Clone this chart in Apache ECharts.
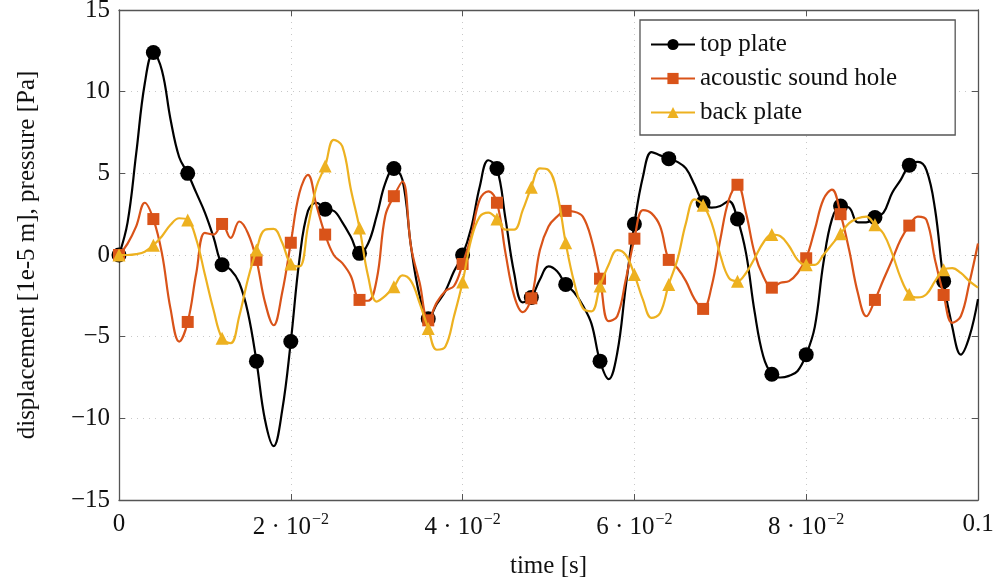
<!DOCTYPE html>
<html>
<head>
<meta charset="utf-8">
<title>plates</title>
<script src="https://cdn.jsdelivr.net/npm/echarts@6/dist/echarts.min.js"></script>
<style>
  html, body {margin: 0; padding: 0; background: #fff;}
  #chart {width: 999px; height: 586px;}
</style>
</head>
<body>
<div id="chart"></div>
<script>
  /******************/
  //region    //data

  // samples every 1 ms, marker on every 4th sample
  const dt = 0.001;
  const markEvery = 4;

  const topPlate = [
    0, 2.0, 6.2, 10.5, 12.4, 11.3, 8.3, 6.0, 5.0, 3.8,
    2.6, 1.1, -0.6, -0.9, -1.7, -3.5, -6.5, -10.1, -11.7, -9.5,
    -5.3, -0.3, 2.7, 3.2, 2.8, 2.7, 2.0, 1.1, 0.1, 0.7,
    2.4, 4.4, 5.3, 4.6, 0.5, -2.5, -3.9, -3.0, -2.2, -1.0,
    0, 1.65, 4.2, 5.8, 5.3, 2.2, -1.1, -2.9, -2.6, -1.5,
    -0.7, -1.0, -1.8, -2.3, -3.1, -4.2, -6.5, -7.6, -6.0, -1.9,
    1.9, 4.8, 6.3, 6.1, 5.9, 5.7, 5.3, 4.3, 3.2, 2.9,
    3.0, 3.3, 2.2, 0.1, -3.5, -6.2, -7.3, -7.5, -7.4, -7.1,
    -6.1, -4.4, -0.5, 2.2, 3.0, 2.9, 2.0, 2.0, 2.3, 2.6,
    3.8, 4.6, 5.5, 5.7, 5.2, 2.8, -1.6, -4.4, -6.1, -5.0,
    -2.7
  ];

  const soundHole = [
    0, 0.7, 1.75, 3.2, 2.2, 0.1, -3.3, -5.3, -4.1, -1.1,
    1.35, 1.25, 1.9, 1.05, 2.05, 1.35, -0.3, -2.9, -4.3, -2.3,
    0.75, 3.8, 4.9, 3.0, 1.25, 0.0, -0.5, -1.3, -2.75, -2.8,
    -1.5, 2.4, 3.6, 4.5, 0.5, -1.7, -4.0, -2.9, -2.2, -1.9,
    -0.55, 1.15, 3.4, 3.9, 3.2, 0.1, -2.5, -3.5, -2.65, 0.3,
    1.75, 2.35, 2.7, 2.65, 2.35, 0.95, -1.45, -4.05, -3.75, -1.5,
    1.0, 2.75, 2.55, 1.75, -0.3, -0.8, -1.6, -2.7, -3.3, -1.9,
    0.95, 3.4, 4.3, 2.55, 0.1, -1.3, -2.0, -1.7, -1.6, -1.1,
    -0.2, 1.55, 3.4, 4.0, 2.5, 0.3, -2.3, -3.75, -2.75, -1.5,
    -0.3, 0.95, 1.8, 2.35, 2.15, -0.3, -2.45, -4.15, -3.75, -1.7,
    0.7
  ];

  const backPlate = [
    0, 0.0, 0.05, 0.2, 0.6, 1.15, 1.85, 2.25, 2.15, 0.95,
    -1.2, -3.35, -5.1, -5.4, -3.75, -1.5, 0.3, 1.55, 1.6, 0.75,
    -0.55, -0.7, 1.75, 4.2, 5.45, 7.05, 6.65, 4.0, 1.65, -1.3,
    -2.85, -2.5, -1.95, -1.25, -1.6, -2.95, -4.5, -5.8, -5.6, -3.75,
    -1.65, 0.95, 2.35, 2.6, 2.2, 1.55, 1.55, 2.75, 4.15, 5.3,
    5.2, 3.8, 0.75, -1.7, -3.25, -3.45, -1.9, -0.6, 0.3, 0.0,
    -1.2, -2.75, -3.85, -3.55, -1.8, -0.3, 1.95, 3.4, 3.05, 1.95,
    0.0, -1.4, -1.6, -1.1, -0.2, 0.75, 1.25, 1.15, 0.55, -0.3,
    -0.6, -0.6, 0.0, 0.65, 1.3, 1.95, 2.25, 2.35, 1.85, 1.3,
    0.1, -1.4, -2.4, -2.6, -2.4, -1.6, -0.9, -0.8, -1.1, -1.6,
    -2.0
  ];

  const seriesNames = ['top plate', 'acoustic sound hole', 'back plate'];
  const seriesColors = ['#000000', '#D95319', '#EDB120'];
  const seriesSymbols = ['circle', 'rect', 'triangle'];
  const symbolSizes = [15, 12, 13];

  const xTicks = [0, 0.02, 0.04, 0.06, 0.08, 0.1];
  const yTicks = [-15, -10, -5, 0, 5, 10, 15];

  //endregion

  /******************/
  //region    //chart

  const font = 'Liberation Serif';
  const chart = echarts.init(document.getElementById('chart'));

  function toPoints(values) {
    return values.map((v, i) => {
      let item = {value: [+(i * dt).toFixed(4), v]};
      if (i % markEvery !== 0 || i === values.length - 1) item.symbol = 'none';
      return item;
    });
  }

  function xLabel(v) {
    if (v === xTicks[0]) return '0';
    if (Math.abs(v - xTicks[xTicks.length - 1]) < 1e-9) return '0.1';
    return '{b|' + Math.round(v * 100) + ' · 10}{s|−2}';
  }

  function yLabel(v) {
    return v < 0 ? '−' + Math.abs(v) : '' + v;
  }

  function makeSeries(values, idx) {
    return {
      name: seriesNames[idx],
      type: 'line',
      data: toPoints(values),
      smooth: 0.4,
      symbol: seriesSymbols[idx],
      symbolSize: symbolSizes[idx],
      showSymbol: true,
      color: seriesColors[idx],
      lineStyle: {width: 2.2, color: seriesColors[idx]},
      itemStyle: {color: seriesColors[idx]},
      emphasis: {disabled: true},
      animation: false,
      z: 2 + idx,
    };
  }

  const axisLine = {show: true, onZero: false, lineStyle: {color: '#555', width: 1.3}};
  const tickIn = {show: true, inside: true, length: 6, lineStyle: {color: '#555'}};

  let option = {
    backgroundColor: '#fff',
    animation: false,
    grid: {left: 119, right: 21, top: 10, bottom: 86, outerBoundsMode: 'none', containLabel: false},
    legend: {
      data: seriesNames,
      orient: 'vertical',
      left: 640,
      top: 20,
      itemWidth: 44,
      itemHeight: 14,
      itemGap: 9,
      padding: [12, 58, 10, 10],
      backgroundColor: '#fff',
      borderColor: '#555',
      borderWidth: 1.3,
      borderRadius: 0,
      textStyle: {fontFamily: font, fontSize: 25, color: '#111'},
    },
    xAxis: [
      {
        type: 'value', min: xTicks[0], max: xTicks[xTicks.length - 1], interval: 0.02,
        name: 'time [s]', nameLocation: 'middle', nameGap: 54,
        nameTextStyle: {fontFamily: font, fontSize: 25, color: '#111'},
        axisLine: axisLine, axisTick: tickIn,
        axisLabel: {
          margin: 12, formatter: xLabel,
          fontFamily: font, fontSize: 25, color: '#111',
          rich: {
            b: {fontFamily: font, fontSize: 25, color: '#111'},
            s: {fontFamily: font, fontSize: 16, color: '#111', padding: [0, 0, 14, 1]},
          },
        },
        splitLine: {show: true, lineStyle: {color: '#c8c8c8', type: [1, 5]}},
      },
      {
        type: 'value', min: xTicks[0], max: xTicks[xTicks.length - 1], interval: 0.02, position: 'top',
        axisLine: axisLine, axisTick: tickIn,
        axisLabel: {show: false}, splitLine: {show: false},
      },
    ],
    yAxis: [
      {
        type: 'value', min: yTicks[0], max: yTicks[yTicks.length - 1], interval: 5,
        name: 'displacement [1e-5 m], pressure [Pa]',
        nameLocation: 'middle', nameGap: 79, nameRotate: 90,
        nameTextStyle: {fontFamily: font, fontSize: 25, color: '#111'},
        axisLine: axisLine, axisTick: tickIn,
        axisLabel: {margin: 9, formatter: yLabel, fontFamily: font, fontSize: 25, color: '#111'},
        splitLine: {show: true, lineStyle: {color: '#c8c8c8', type: [1, 5]}},
      },
      {
        type: 'value', min: yTicks[0], max: yTicks[yTicks.length - 1], interval: 5, position: 'right',
        axisLine: axisLine, axisTick: tickIn,
        axisLabel: {show: false}, splitLine: {show: false},
      },
    ],
    series: [topPlate, soundHole, backPlate].map(makeSeries),
  };

  chart.setOption(option);

  //endregion
</script>
</body>
</html>
